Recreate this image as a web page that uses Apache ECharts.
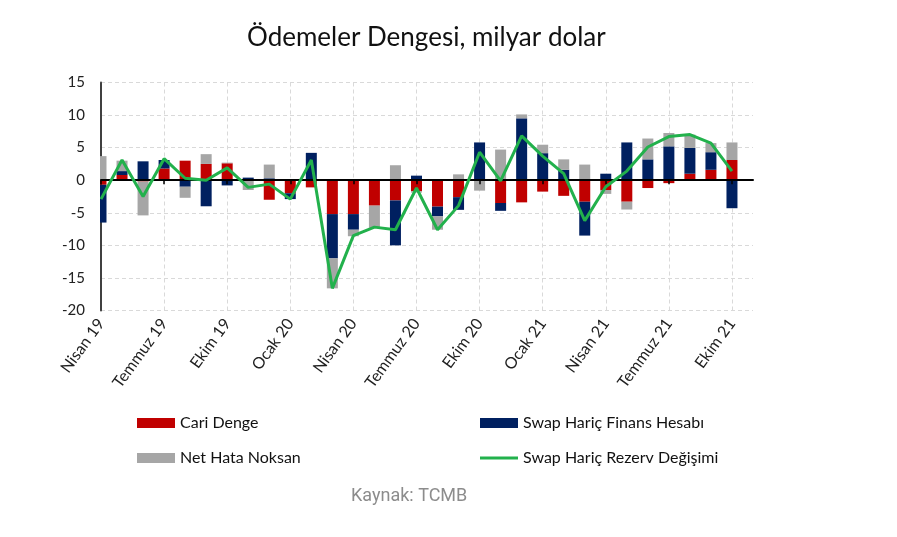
<!DOCTYPE html>
<html>
<head>
<meta charset="utf-8">
<script src="https://cdn.jsdelivr.net/npm/echarts@6/dist/echarts.min.js"></script>
<style>
  html, body { margin: 0; padding: 0; background: #fff; }
  #chart { width: 897px; height: 537px; }
</style>
</head>
<body>
<div id="chart"></div>
<script>
// Months: Nisan 2019 .. Ekim 2021 (+ one empty slot at the right edge)
const categories = ['Nisan 19','Mayıs 19','Haziran 19','Temmuz 19','Ağustos 19','Eylül 19','Ekim 19','Kasım 19','Aralık 19',
  'Ocak 20','Şubat 20','Mart 20','Nisan 20','Mayıs 20','Haziran 20','Temmuz 20','Ağustos 20','Eylül 20','Ekim 20','Kasım 20','Aralık 20',
  'Ocak 21','Şubat 21','Mart 21','Nisan 21','Mayıs 21','Haziran 21','Temmuz 21','Ağustos 21','Eylül 21','Ekim 21','Kasım 21'];

const cariDenge = [-0.7, 0.8, -0.2, 1.8, 3.0, 2.5, 2.6, 0.1, -3.0, -2.0, -1.1, -5.2, -5.2, -3.9, -3.1, -1.7,
  -4.05, -2.6, 0, -3.5, -3.4, -1.75, -2.4, -3.3, -1.5, -3.3, -1.2, -0.45, 1.0, 1.6, 3.1];
const finansHesabi = [-5.8, 0.6, 2.9, 1.3, -1.0, -4.0, -0.8, 0.3, 0.3, -0.9, 4.2, -6.8, -2.4, 0, -6.9, 0.7,
  -1.5, -1.95, 5.8, -1.2, 9.5, 4.15, 1.6, -5.2, 1.0, 5.8, 3.2, 5.2, 3.95, 2.7, -4.3];
const netHata = [3.7, 1.6, -5.2, 0, -1.7, 1.5, 0.1, -1.5, 2.1, 0, 0, -4.6, -1.0, -3.4, 2.3, -0.2,
  -2.05, 0.9, -1.6, 4.7, 0.6, 1.3, 1.6, 2.4, -0.6, -1.2, 3.2, 2.05, 2.05, 1.4, 2.7];
const rezervDegisimi = [-2.9, 3.1, -2.5, 3.3, 0.3, 0.0, 1.9, -1.1, -0.6, -2.9, 3.1, -16.6, -8.5, -7.2, -7.6, -1.2,
  -7.6, -3.9, 4.3, -0.1, 6.8, 3.7, 1.0, -6.2, -1.0, 1.4, 5.1, 6.7, 7.0, 5.7, 1.4];

const seriesNames = ['Cari Denge', 'Swap Hariç Finans Hesabı', 'Net Hata Noksan', 'Swap Hariç Rezerv Değişimi'];
const colors = ['#C00000', '#002060', '#A6A6A6', '#22B14C'];

const FONT = 'Lato, "Open Sans", sans-serif';
const chart = echarts.init(document.getElementById('chart'), null, { renderer: 'canvas' });

const legendText = { fontSize: 16, color: '#111', fontFamily: FONT, lineHeight: 18 };
function mkLegend(name, left, top, h) {
  return { data: [name], left: left, top: top, padding: 0, icon: 'rect', itemWidth: 38, itemHeight: h,
    textStyle: legendText, selectedMode: false };
}

const option = {
  animation: false,
  backgroundColor: '#fff',
  grid: { left: 101, right: 144, top: 82.5, bottom: 226.5, containLabel: false },
  xAxis: [
    {
      type: 'category', data: categories, boundaryGap: false, position: 'bottom', z: 3,
      axisLine: { onZero: true, lineStyle: { color: '#000', width: 2 } },
      axisTick: { show: true, interval: 2, length: 4, lineStyle: { color: '#000', width: 1.5 } },
      axisLabel: { show: false },
      splitLine: { show: false }
    },
    {
      type: 'category', data: categories, boundaryGap: false, position: 'bottom',
      axisLine: { show: false, onZero: false },
      axisTick: { show: false },
      axisLabel: { interval: 2, rotate: 54, fontSize: 16, color: '#222', margin: 10, fontFamily: FONT },
      splitLine: { show: true, interval: 2, lineStyle: { type: [4, 3], color: '#d9d9d9', width: 1 } }
    }
  ],
  yAxis: {
    type: 'value', min: -20, max: 15, interval: 5,
    axisLine: { show: true, lineStyle: { color: '#404040', width: 2 } },
    axisTick: { show: false },
    axisLabel: { fontSize: 15, color: '#222', margin: 16, fontFamily: FONT },
    splitLine: { show: true, lineStyle: { type: [4, 3], color: '#d9d9d9', width: 1 } }
  },
  legend: [
    mkLegend(seriesNames[0], 137, 414, 10),
    mkLegend(seriesNames[1], 480, 414, 10),
    mkLegend(seriesNames[2], 137, 449, 10),
    mkLegend(seriesNames[3], 480, 449, 3)
  ],
  graphic: [
    // white mask left of the value axis (inside the plot's vertical span only) so the first half bar is cut at the axis
    { type: 'rect', z: 100, shape: { x: 91, y: 80, width: 9, height: 180 }, style: { fill: '#fff' } },
    { type: 'text', left: 247, top: 25, z: 100, style: { text: 'Ödemeler Dengesi, milyar dolar',
      font: '26px ' + FONT, fill: '#111' } },
    { type: 'text', left: 351, top: 487, z: 100, style: { text: 'Kaynak: TCMB',
      font: '18px Roboto, sans-serif', fill: '#8c8c8c' } }
  ],
  series: [
    { name: seriesNames[0], type: 'bar', stack: 'bop', data: cariDenge, barWidth: 11, clip: true,
      itemStyle: { color: colors[0] }, z: 2 },
    { name: seriesNames[1], type: 'bar', stack: 'bop', data: finansHesabi, barWidth: 11, clip: true,
      itemStyle: { color: colors[1] }, z: 2 },
    { name: seriesNames[2], type: 'bar', stack: 'bop', data: netHata, barWidth: 11, clip: true,
      itemStyle: { color: colors[2] }, z: 2 },
    { name: seriesNames[3], type: 'line', data: rezervDegisimi, symbol: 'none', z: 5,
      lineStyle: { color: colors[3], width: 3 }, itemStyle: { color: colors[3] } }
  ]
};
chart.setOption(option);
</script>
</body>
</html>
